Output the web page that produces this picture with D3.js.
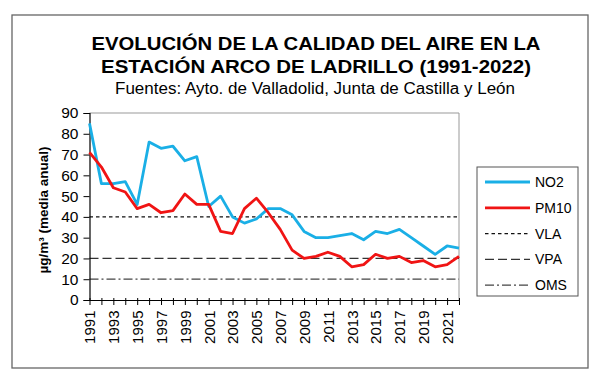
<!DOCTYPE html>
<html><head><meta charset="utf-8">
<script src="https://cdn.jsdelivr.net/npm/d3@7"></script>
<style>html,body{margin:0;padding:0;background:#fff;}svg{display:block;font-family:"Liberation Sans",Arial,sans-serif;}</style>
</head><body>
<svg id="c" width="600" height="377"></svg>
<script>
const years = d3.range(1991, 2023);
const no2 = [85,56,56,57,46,76,73,74,67,69,45,50,40,37,39,44,44,41,33,30,30,31,32,29,33,32,34,30,26,22,26,25];
const pm10 = [71,64,54,52,44,46,42,43,51,46,46,33,32,44,49,42,34,24,20,21,23,21,16,17,22,20,21,18,19,16,17,21];
const yTicks = [0,10,20,30,40,50,60,70,80,90];
const xTickLabels = years.filter(y => y % 2 === 1);
const refNames = ["VLA","VPA","OMS"];
const refValues = [40,20,10];
const seriesNames = ["NO2","PM10"];
const titleLines = ["EVOLUCIÓN DE LA CALIDAD DEL AIRE EN LA","ESTACIÓN ARCO DE LADRILLO (1991-2022)"];
const subtitle = "Fuentes: Ayto. de Valladolid, Junta de Castilla y León";
const yTitle = "µg/m³ (media anual)";

const colors = {NO2:"#1AAFE6", PM10:"#F01414"};
const refStyles = {VLA:{dash:"3.5,3", color:"#111", w:1.3}, VPA:{dash:"9,4", color:"#333", w:1.3}, OMS:{dash:"9,3,2,3", color:"#444", w:1.2}};

const svg = d3.select("#c");
// outer frame
svg.append("rect").attr("x",12).attr("y",15).attr("width",576).attr("height",353)
  .attr("fill","#fff").attr("stroke","#666").attr("stroke-width",1.3);

// titles
titleLines.forEach((t,i)=>{
  svg.append("text").attr("x",316).attr("y",[49.5,73][i]).attr("text-anchor","middle")
    .attr("font-size",19).attr("font-weight","bold").attr("fill","#000")
    .attr("textLength",[449,430][i]).attr("lengthAdjust","spacingAndGlyphs").text(t);
});
svg.append("text").attr("x",315).attr("y",93.5).attr("text-anchor","middle")
  .attr("font-size",16).attr("fill","#000").attr("textLength",400).attr("lengthAdjust","spacingAndGlyphs").text(subtitle);

const x = d3.scaleLinear().domain([1991,2022]).range([89.5,459]);
const y = d3.scaleLinear().domain([0,90]).range([300,113]);

// plot border (top/right)
svg.append("path").attr("d",`M${x(1991)},${y(90)}H${x(2022)}V${y(0)}`).attr("fill","none").attr("stroke","#999").attr("stroke-width",1);

// reference lines
refNames.forEach((n,i)=>{
  const s = refStyles[n];
  svg.append("line").attr("x1",x(1991)).attr("x2",x(2022)).attr("y1",y(refValues[i])).attr("y2",y(refValues[i]))
    .attr("stroke",s.color).attr("stroke-width",s.w).attr("stroke-dasharray",s.dash);
});

// y axis
const yAxis = svg.append("g").attr("transform",`translate(${x(1991)},0)`)
  .call(d3.axisLeft(y).tickValues(yTicks).tickSize(6).tickPadding(5).tickFormat(d3.format("d")));
yAxis.select(".domain").attr("stroke","#000").attr("stroke-width",1.2);
yAxis.selectAll(".tick line").attr("stroke","#000");
yAxis.selectAll(".tick text").attr("font-size",15.5).attr("fill","#000").attr("font-family","Liberation Sans, Arial, sans-serif");

// x axis
const xAxis = svg.append("g").attr("transform",`translate(0,${y(0)})`)
  .call(d3.axisBottom(x).tickValues(years).tickSize(5).tickSizeOuter(0).tickFormat(d => xTickLabels.includes(d) ? d : ""));
xAxis.select(".domain").attr("stroke","#000").attr("stroke-width",1.2);
xAxis.selectAll(".tick line").attr("stroke","#000").attr("y1",-2);
xAxis.selectAll(".tick text").attr("font-size",15).attr("fill","#000").attr("font-family","Liberation Sans, Arial, sans-serif")
  .attr("transform","rotate(-90)").attr("text-anchor","end").attr("x",-10.5).attr("y",0).attr("dy","0.36em");

// y title
svg.append("text").attr("transform",`translate(47.5,210) rotate(-90)`).attr("text-anchor","middle")
  .attr("font-size",13.5).attr("font-weight","bold").attr("fill","#000").text(yTitle);

// series
const line = d3.line().x((d,i)=>x(years[i])).y(d=>y(d));
[[no2,"NO2"],[pm10,"PM10"]].forEach(([vals,n])=>{
  svg.append("path").datum(vals).attr("d",line).attr("fill","none").attr("stroke",colors[n])
    .attr("stroke-width",2.8).attr("stroke-linejoin","round");
});

// legend
svg.append("rect").attr("x",477).attr("y",167).attr("width",101).attr("height",129)
  .attr("fill","#fff").attr("stroke","#555").attr("stroke-width",1);
const legItems = seriesNames.concat(refNames);
legItems.forEach((n,i)=>{
  const ly = 182 + i*25.8;
  const ln = svg.append("line").attr("x1",485).attr("x2",530).attr("y1",ly).attr("y2",ly);
  if (colors[n]) ln.attr("stroke",colors[n]).attr("stroke-width",2.8);
  else ln.attr("stroke",refStyles[n].color).attr("stroke-width",refStyles[n].w).attr("stroke-dasharray",refStyles[n].dash);
  svg.append("text").attr("x",535).attr("y",ly).attr("dy","0.36em").attr("font-size",14).attr("fill","#000").text(n);
});
</script>
</body></html>
